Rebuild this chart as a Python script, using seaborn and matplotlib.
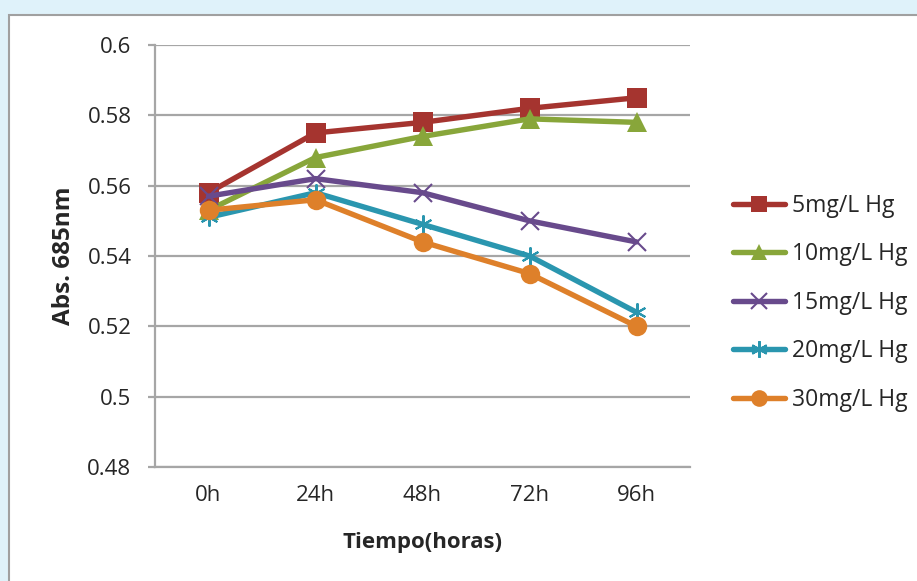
import matplotlib
matplotlib.use("Agg")
import matplotlib.pyplot as plt
from matplotlib.patches import Rectangle
import seaborn as sns
import pandas as pd

# Absorbance at 685 nm over time for each mercury concentration
tiempos = ["0h", "24h", "48h", "72h", "96h"]
series = ["5mg/L Hg", "10mg/L Hg", "15mg/L Hg", "20mg/L Hg", "30mg/L Hg"]
abs_5 = [0.558, 0.575, 0.578, 0.582, 0.585]
abs_10 = [0.553, 0.568, 0.574, 0.579, 0.578]
abs_15 = [0.557, 0.562, 0.558, 0.550, 0.544]
abs_20 = [0.551, 0.558, 0.549, 0.540, 0.524]
abs_30 = [0.553, 0.556, 0.544, 0.535, 0.520]
y_ticks = [0.48, 0.50, 0.52, 0.54, 0.56, 0.58, 0.60]
y_tick_labels = ["0.48", "0.5", "0.52", "0.54", "0.56", "0.58", "0.6"]

valores = [abs_5, abs_10, abs_15, abs_20, abs_30]
df = pd.DataFrame(
    [(s, i, t, v) for s, vals in zip(series, valores)
     for i, (t, v) in enumerate(zip(tiempos, vals))],
    columns=["serie", "pos", "tiempo", "abs"],
)

colores = ["#A5342F", "#88A63A", "#684A8C", "#2A96AF", "#DE802A"]
marcadores = ["s", "^", "x", (6, 2, 0), "o"]
tamanos = [14, 15, 13, 13, 14]

sns.set_theme(style="white")
plt.rcParams["font.family"] = ["Open Sans", "DejaVu Sans"]

fig = plt.figure(figsize=(9.17, 5.81), dpi=100)
fig.patch.set_facecolor("#DFF2FA")
fig.patches.append(Rectangle((9 / 917, -0.1), 1.0, (581 - 15) / 581 + 0.1,
                             transform=fig.transFigure, facecolor="white",
                             edgecolor="#A0A0A0", linewidth=1.5, zorder=-10))

ax = fig.add_axes([155 / 917, (581 - 467) / 581, 535 / 917, 422 / 581])
ax.set_facecolor("white")

for s, c, m, ms in zip(series, colores, marcadores, tamanos):
    sub = df[df["serie"] == s]
    sns.lineplot(data=sub, x="pos", y="abs", ax=ax, color=c, linewidth=3.9,
                 marker=m, markersize=ms, markeredgewidth=1.5 if m in ("x", (6, 2, 0)) else 0,
                 markeredgecolor=c, label=s, solid_capstyle="round", zorder=3)

ax.set_xlim(-0.5, 4.5)
ax.set_ylim(0.48, 0.60)
ax.set_xticks(range(len(tiempos)))
ax.set_xticklabels(tiempos)
ax.set_yticks(y_ticks)
ax.set_yticklabels(y_tick_labels)
ax.yaxis.grid(True, color="#A6A6A6", linewidth=1.6)
ax.set_axisbelow(True)
for side in ["top", "right"]:
    ax.spines[side].set_visible(False)
ax.spines["left"].set_color("#A6A6A6")
ax.spines["left"].set_linewidth(1.6)
ax.spines["bottom"].set_color("#A6A6A6")
ax.spines["bottom"].set_linewidth(1.6)
ax.tick_params(axis="y", length=5, width=1.6, color="#A6A6A6", pad=12,
               labelsize=16, labelcolor="#262626", left=True)
ax.tick_params(axis="x", length=0, pad=13, labelsize=16, labelcolor="#262626")

ax.set_xlabel("Tiempo(horas)", fontsize=16, fontweight="bold", color="#262626", labelpad=19)
ax.set_ylabel("Abs. 685nm", fontsize=17.5, fontweight="bold", color="#262626", labelpad=8)

leg = ax.legend(loc="center left", bbox_to_anchor=(1.042, 0.389), frameon=False,
                fontsize=16.5, handlelength=2.27, handletextpad=0.3,
                labelspacing=1.07, labelcolor="#262626")
for h in leg.legend_handles:
    h.set_markersize(12)

fig.savefig("out.png", dpi=100)
